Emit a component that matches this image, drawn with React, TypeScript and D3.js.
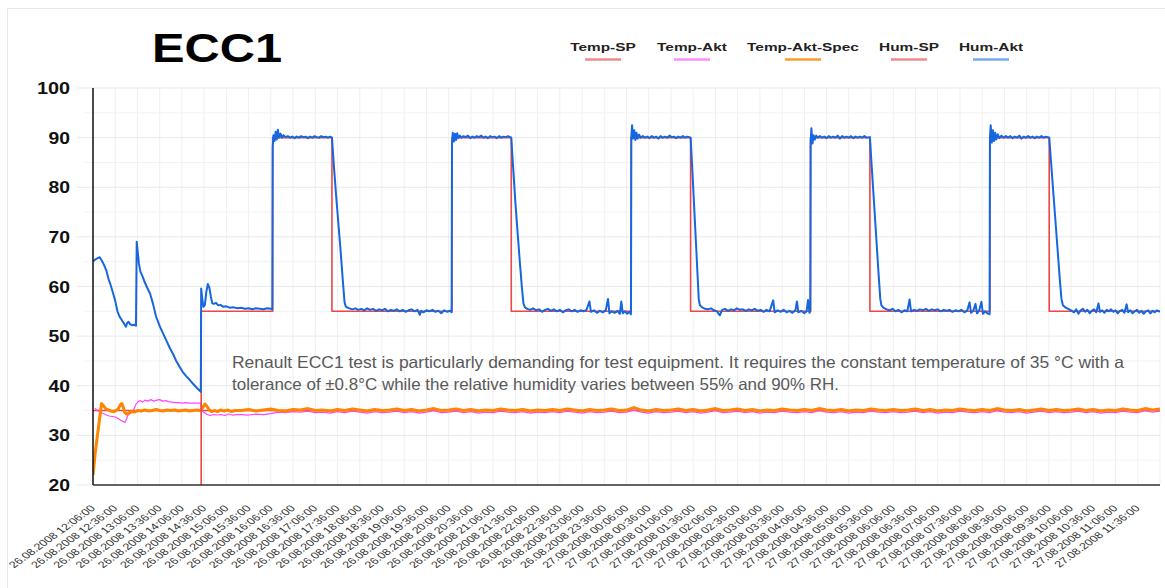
import React from 'react';
import * as d3 from 'd3';

// x values are minutes after 26.08.2008 12:06:00
const tickLabels = [
  '26.08.2008 12:06:00', '26.08.2008 12:36:00', '26.08.2008 13:06:00', '26.08.2008 13:36:00',
  '26.08.2008 14:06:00', '26.08.2008 14:36:00', '26.08.2008 15:06:00', '26.08.2008 15:36:00',
  '26.08.2008 16:06:00', '26.08.2008 16:36:00', '26.08.2008 17:06:00', '26.08.2008 17:36:00',
  '26.08.2008 18:06:00', '26.08.2008 18:36:00', '26.08.2008 19:06:00', '26.08.2008 19:36:00',
  '26.08.2008 20:06:00', '26.08.2008 20:36:00', '26.08.2008 21:06:00', '26.08.2008 21:36:00',
  '26.08.2008 22:06:00', '26.08.2008 22:36:00', '26.08.2008 23:06:00', '26.08.2008 23:36:00',
  '27.08.2008 00:06:00', '27.08.2008 00:36:00', '27.08.2008 01:06:00', '27.08.2008 01:36:00',
  '27.08.2008 02:06:00', '27.08.2008 02:36:00', '27.08.2008 03:06:00', '27.08.2008 03:36:00',
  '27.08.2008 04:06:00', '27.08.2008 04:36:00', '27.08.2008 05:06:00', '27.08.2008 05:36:00',
  '27.08.2008 06:06:00', '27.08.2008 06:36:00', '27.08.2008 07:06:00', '27.08.2008 07:36:00',
  '27.08.2008 08:06:00', '27.08.2008 08:36:00', '27.08.2008 09:06:00', '27.08.2008 09:36:00',
  '27.08.2008 10:06:00', '27.08.2008 10:36:00', '27.08.2008 11:06:00', '27.08.2008 11:36:00',
];
const tickStep = 30;
const totalMinutes = 1440;
const yTicks = [20, 30, 40, 50, 60, 70, 80, 90, 100];

const tempSP: [number, number][] = [[0, 35], [1440, 35]];

const humSP: [number, number][] = [
  [0, 0], [146, 0], [146, 55], [242.5, 55], [242.5, 90], [322.5, 90], [322.5, 55],
  [484.5, 55], [484.5, 90], [564.5, 90], [564.5, 55], [726.4, 55], [726.4, 90], [806.5, 90],
  [806.5, 55], [968.4, 55], [968.4, 90], [1048.5, 90], [1048.5, 55], [1210.5, 55],
  [1210.5, 90], [1290.5, 90], [1290.5, 55], [1440, 55],
];

const humAkt: [number, number][] = [
  [0, 65.1], [2, 65.3], [5, 65.6], [9, 65.9], [12, 65.2], [15, 64.3], [18, 63.2], [21, 61.5],
  [24, 60.2], [27, 58.7], [30, 57.1], [33, 55.0], [36, 53.9], [39, 53.2], [42, 52.5], [44.5, 51.9],
  [46, 52.6], [48, 52.9], [50, 52.4], [53, 52.2], [56, 52.3], [58, 52.1], [59, 69.0], [60.5, 66.8],
  [62, 64.6], [64, 63.0], [67, 62.0], [70, 60.8], [73, 59.8], [77, 58.6], [81, 56.5], [85, 54.0],
  [90, 52.0], [95, 50.4], [100, 48.8], [104, 47.5], [108, 46.4], [112, 45.1], [117, 43.8],
  [121, 42.8], [126, 41.9], [131, 41.1], [135, 40.4], [140, 39.6], [145.5, 38.8],
  [146, 59.6], [147.5, 57.5], [149, 55.9], [151, 56.3], [153, 59.0], [155, 60.5], [157, 59.8],
  [159, 58.0], [161, 56.6], [163, 56.5], [166, 56.7], [169, 56.2], [172, 56.3], [176, 55.9],
  [180, 56.0], [185, 55.7], [190, 55.8], [195, 55.6], [200, 55.7], [205, 55.5], [210, 55.6],
  [215, 55.4], [220, 55.6], [225, 55.5], [230, 55.4], [235, 55.6], [240, 55.5], [242, 55.4],
  [242.5, 88.0], [243.5, 90.5], [245, 89.3], [246.5, 91.2], [248, 89.6], [249.5, 91.6], [251, 90.0],
  [253, 90.8], [255, 90.0], [257, 90.5], [260, 90.1], [263, 90.3], [266, 90.0], [269, 90.2],
  [272, 89.9], [275, 90.2], [278, 90.0], [281, 90.3], [284, 90.1], [287, 90.2], [290, 89.9],
  [293, 90.2], [296, 90.0], [299, 90.3], [302, 90.1], [305, 90.0], [308, 90.3], [311, 90.1],
  [314, 90.2], [317, 90.0], [320, 90.2], [322.5, 90.0],
  [325, 84.5], [328, 78.5], [331, 73.0], [334, 67.5], [337, 61.5], [339.5, 56.8], [341, 56.0],
  [343, 55.8], [346, 55.6], [350, 55.4], [354, 55.6], [358, 55.3], [362, 55.5], [366, 55.2],
  [370, 55.6], [374, 55.3], [378, 55.5], [382, 55.1], [386, 55.4], [390, 55.2], [394, 55.5],
  [398, 55.0], [402, 55.3], [406, 55.1], [410, 55.4], [414, 55.0], [418, 55.3], [422, 54.9],
  [426, 55.2], [430, 55.4], [434, 55.0], [438, 55.3], [441, 54.3], [443, 55.1], [446, 54.8],
  [450, 55.2], [454, 55.0], [458, 55.3], [462, 54.9], [466, 55.1], [470, 54.6], [474, 55.2],
  [478, 54.9], [482, 55.1], [484, 54.8],
  [484.5, 88.5], [485.5, 91.0], [487, 89.2], [488.5, 90.8], [490, 89.5], [491.5, 90.9], [493, 89.9],
  [495, 90.4], [497, 90.0], [500, 90.3], [503, 90.1], [506, 90.4], [509, 89.9], [512, 90.2],
  [515, 90.0], [518, 90.3], [521, 90.1], [524, 90.4], [527, 90.0], [530, 90.2], [533, 89.9],
  [536, 90.3], [539, 90.1], [542, 90.2], [545, 89.9], [548, 90.3], [551, 90.0], [554, 90.2],
  [557, 90.1], [560, 90.3], [564.5, 90.0],
  [567, 84.0], [570, 77.0], [573, 71.0], [576, 65.0], [579, 59.5], [581, 56.5], [583, 55.8],
  [586, 55.5], [590, 55.3], [594, 55.6], [598, 55.2], [602, 55.4], [606, 54.9], [610, 55.3],
  [614, 55.5], [618, 55.1], [622, 55.4], [626, 55.0], [630, 55.3], [634, 54.8], [638, 55.2],
  [642, 55.4], [646, 55.0], [650, 55.3], [654, 54.9], [658, 55.2], [662, 55.0], [666, 55.3],
  [670, 57.0], [672, 54.9], [676, 55.2], [680, 54.7], [684, 55.1], [688, 54.8], [692, 55.2],
  [695, 57.5], [697, 54.6], [700, 55.0], [704, 54.7], [708, 55.1], [711, 54.5], [713, 57.0],
  [715, 54.6], [718, 55.0], [721, 54.5], [724, 54.9], [726, 54.4],
  [726.5, 90.0], [727.5, 92.5], [729, 89.8], [730.5, 91.5], [732, 89.5], [733.5, 91.0], [735, 89.8],
  [737, 90.6], [739, 90.0], [742, 90.3], [745, 90.0], [748, 90.2], [751, 89.9], [754, 90.3],
  [757, 90.0], [760, 90.2], [763, 89.8], [766, 90.3], [769, 90.0], [772, 90.2], [775, 90.0],
  [778, 90.4], [781, 90.1], [784, 90.2], [787, 89.9], [790, 90.2], [793, 90.0], [796, 90.3],
  [799, 90.0], [802, 90.2], [806.5, 90.0],
  [809, 83.0], [812, 74.0], [815, 65.0], [817.5, 57.5], [819, 56.2], [822, 55.8], [826, 55.5],
  [830, 55.4], [834, 55.6], [838, 55.2], [842, 55.0], [846, 54.2], [849, 55.3], [853, 55.5],
  [857, 55.1], [861, 55.4], [865, 55.2], [869, 55.6], [873, 55.3], [877, 55.4], [881, 55.1],
  [885, 55.4], [889, 55.2], [893, 55.5], [897, 55.1], [901, 55.3], [905, 54.9], [909, 55.3],
  [913, 55.0], [918, 57.2], [920, 54.8], [924, 55.2], [928, 54.9], [932, 55.3], [936, 54.8],
  [940, 55.1], [944, 54.7], [948, 55.2], [950, 57.0], [952, 54.8], [956, 55.1], [960, 54.6],
  [963, 55.0], [965, 57.3], [967, 54.7], [968, 55.0],
  [968.5, 89.0], [969.5, 91.9], [971, 88.8], [972.5, 90.5], [974, 89.6], [976, 90.4], [978, 90.0],
  [981, 90.3], [984, 90.0], [987, 90.2], [990, 89.9], [993, 90.3], [996, 90.0], [999, 90.2],
  [1002, 90.0], [1005, 90.4], [1008, 89.8], [1011, 90.3], [1014, 90.0], [1017, 90.2], [1020, 90.0],
  [1023, 90.3], [1026, 89.9], [1029, 90.2], [1032, 90.0], [1035, 90.2], [1038, 90.0], [1041, 90.3],
  [1044, 90.0], [1048.5, 90.1],
  [1051, 84.0], [1054, 77.0], [1057, 70.0], [1060, 63.0], [1062.5, 57.5], [1064, 56.2],
  [1067, 55.7], [1071, 55.4], [1075, 55.2], [1079, 55.5], [1083, 55.0], [1087, 55.3], [1091, 54.8],
  [1095, 55.2], [1099, 55.0], [1102, 57.4], [1104, 55.0], [1108, 55.3], [1112, 55.1], [1116, 55.4],
  [1120, 55.2], [1124, 55.5], [1128, 55.1], [1132, 55.4], [1136, 55.2], [1140, 55.4], [1144, 55.0],
  [1148, 55.3], [1152, 55.1], [1156, 55.3], [1160, 54.9], [1164, 55.2], [1168, 55.0], [1172, 55.3],
  [1176, 54.8], [1180, 55.2], [1183, 56.8], [1185, 54.7], [1188, 55.1], [1191, 56.5], [1193, 54.6],
  [1196, 55.2], [1199, 56.9], [1201, 54.5], [1204, 55.0], [1207, 54.6], [1210, 54.4],
  [1210.5, 90.0], [1211.5, 92.5], [1213, 89.0], [1214.5, 91.5], [1216, 89.3], [1217.5, 91.0],
  [1219, 89.6], [1221, 90.7], [1223, 89.9], [1226, 90.4], [1229, 90.0], [1232, 90.3], [1235, 90.0],
  [1238, 90.3], [1241, 89.9], [1244, 90.2], [1247, 90.0], [1250, 90.4], [1253, 89.8], [1256, 90.2],
  [1259, 90.0], [1262, 90.3], [1265, 90.0], [1268, 90.2], [1271, 89.9], [1274, 90.2], [1277, 90.0],
  [1280, 90.3], [1283, 90.0], [1286, 90.2], [1290.5, 90.0],
  [1293, 85.0], [1296, 79.0], [1299, 73.0], [1302, 67.0], [1305, 61.0], [1307, 57.5], [1309, 56.2],
  [1312, 55.8], [1316, 55.5], [1320, 55.2], [1324, 54.8], [1327, 55.4], [1330, 54.5], [1333, 55.2],
  [1336, 55.5], [1339, 54.9], [1342, 55.3], [1345, 54.6], [1348, 55.1], [1351, 55.4], [1354, 54.8],
  [1357, 56.6], [1359, 54.9], [1362, 55.2], [1365, 54.7], [1368, 55.3], [1371, 55.0], [1374, 55.4],
  [1377, 54.9], [1380, 55.2], [1383, 54.6], [1386, 55.1], [1389, 55.3], [1392, 54.7], [1395, 56.4],
  [1397, 54.8], [1400, 55.2], [1403, 54.6], [1406, 55.0], [1409, 55.3], [1412, 54.7], [1415, 55.1],
  [1418, 54.5], [1421, 55.0], [1424, 55.2], [1427, 54.6], [1430, 55.1], [1433, 54.8], [1436, 55.2],
  [1440, 54.9],
];

const tempSpecHead: [number, number][] = [
  [0, 22.0], [3, 26.5], [6, 30.0], [9, 33.5], [11.5, 36.4], [14, 36.0], [17, 35.4], [20, 35.2],
  [24, 34.9], [28, 34.8], [31, 35.0], [34, 35.3], [37, 36.2], [39, 36.4], [41, 35.6], [43, 34.6],
  [45, 34.3], [48, 34.5], [52, 34.8], [56, 34.7], [60, 35.0], [65, 34.9], [70, 35.1], [75, 34.9],
  [80, 35.0], [85, 35.2], [90, 35.0], [95, 34.9], [100, 35.1], [105, 35.0], [110, 35.1], [115, 34.9],
  [120, 35.0], [125, 35.1], [130, 34.9], [135, 35.0], [140, 35.1], [145, 35.0], [148, 35.6],
  [151, 36.3], [154, 35.8], [157, 35.1], [160, 34.8], [164, 35.0], [168, 34.8], [172, 35.1],
  [177, 34.9], [182, 35.1], [187, 34.8], [192, 35.0],
];

const tempAktHead: [number, number][] = [
  [2.5, 35.5], [6, 35.0], [10, 34.6], [14, 34.4], [18, 34.1], [22, 33.9], [26, 33.8], [30, 33.7],
  [34, 33.4], [38, 33.0], [41, 32.8], [43, 32.6], [45, 33.2], [47, 34.0], [50, 34.4], [53, 34.6],
  [56, 35.5], [58, 36.3], [61, 36.8], [64, 37.0], [67, 36.7], [70, 37.1], [74, 36.9], [78, 37.2],
  [82, 36.9], [86, 37.1], [90, 37.2], [94, 36.9], [98, 37.0], [102, 36.8], [106, 36.7], [110, 36.6],
  [115, 36.6], [120, 36.5], [125, 36.6], [130, 36.5], [135, 36.5], [140, 36.5], [145.5, 36.5],
  [146, 35.2], [148, 34.8], [151, 34.5], [154, 34.2], [158, 34.0], [163, 34.2], [168, 34.1],
  [173, 34.2], [178, 34.0], [183, 34.3], [188, 34.1], [194, 34.2],
];

// from 200 min on, one reading every 10 min
const tailStart = 200;
const tailStep = 10;
const tempSpecTail = [
  35.0, 35.2, 34.9, 35.1, 35.3, 35.0, 34.9, 35.2, 35.1, 35.4, 35.0, 35.1, 34.9, 35.2, 35.0, 35.3,
  35.1, 34.9, 35.2, 35.0, 35.1, 35.3, 35.0, 35.2, 34.9, 35.1, 35.4, 35.0, 35.1, 35.3, 35.0, 35.2,
  34.9, 35.1, 35.0, 35.3, 35.1, 35.0, 35.2, 34.9, 35.1, 35.0, 35.2, 35.0, 35.3, 35.1, 34.9, 35.2,
  35.0, 35.1, 35.3, 35.0, 35.1, 35.6, 35.1, 34.9, 35.2, 35.0, 35.1, 35.3, 35.0, 35.2, 34.9, 35.1,
  35.4, 35.0, 35.1, 35.3, 35.0, 35.2, 34.9, 35.1, 35.0, 35.3, 35.1, 35.0, 35.2, 35.0, 35.4, 35.1,
  35.0, 35.2, 34.9, 35.1, 35.0, 35.3, 35.1, 35.0, 35.2, 35.0, 35.1, 35.3, 35.0, 35.2, 34.9, 35.1,
  35.0, 35.3, 35.1, 35.0, 35.2, 35.0, 35.4, 35.1, 35.0, 35.2, 34.9, 35.1, 35.3, 35.0, 35.2, 35.0,
  35.1, 35.3, 35.0, 35.2, 34.9, 35.1, 35.0, 35.3, 35.1, 35.0, 35.4, 35.1, 35.3,
];
const tempAktTail = [
  34.2, 34.1, 34.3, 34.2, 34.4, 34.7, 34.6, 34.8, 34.7, 34.9, 34.6, 34.7, 34.5, 34.8, 34.6, 34.9,
  34.7, 34.5, 34.8, 34.6, 34.7, 34.9, 34.6, 34.8, 34.5, 34.7, 35.0, 34.6, 34.7, 34.9, 34.6, 34.8,
  34.5, 34.7, 34.6, 34.9, 34.7, 34.6, 34.8, 34.5, 34.7, 34.6, 34.8, 34.6, 34.9, 34.7, 34.5, 34.8,
  34.6, 34.7, 34.9, 34.6, 34.7, 35.1, 34.7, 34.5, 34.8, 34.6, 34.7, 34.9, 34.6, 34.8, 34.5, 34.7,
  35.0, 34.6, 34.7, 34.9, 34.6, 34.8, 34.5, 34.7, 34.6, 34.9, 34.7, 34.6, 34.8, 34.6, 35.0, 34.7,
  34.6, 34.8, 34.5, 34.7, 34.6, 34.9, 34.7, 34.6, 34.8, 34.6, 34.7, 34.9, 34.6, 34.8, 34.5, 34.7,
  34.6, 34.9, 34.7, 34.6, 34.8, 34.6, 35.0, 34.7, 34.6, 34.8, 34.5, 34.7, 34.9, 34.6, 34.8, 34.6,
  34.7, 34.9, 34.6, 34.8, 34.5, 34.7, 34.6, 34.9, 34.7, 34.6, 35.0, 34.7, 34.9,
];

const tempAktSpec: [number, number][] = tempSpecHead.concat(
  tempSpecTail.map((v, i) => [tailStart + i * tailStep, v] as [number, number])
);
const tempAkt: [number, number][] = tempAktHead.concat(
  tempAktTail.map((v, i) => [tailStart + i * tailStep, v] as [number, number])
);

const series = [
  { name: 'Temp-SP', data: tempSP, color: '#ee4646', legend: '#f28a8a', width: 1.6, cx: 603 },
  { name: 'Temp-Akt', data: tempAkt, color: '#ff44ff', legend: '#ff8cff', width: 1.2, cx: 692 },
  { name: 'Temp-Akt-Spec', data: tempAktSpec, color: '#ff8400', legend: '#ff9a2a', width: 3, cx: 803 },
  { name: 'Hum-SP', data: humSP, color: '#ee4646', legend: '#f28a8a', width: 1.6, cx: 909 },
  { name: 'Hum-Akt', data: humAkt, color: '#1666e0', legend: '#78a8ee', width: 2, cx: 991 },
];

const note = [
  'Renault ECC1 test is particularly demanding for test equipment. It requires the constant temperature of 35 °C with a',
  'tolerance of ±0.8°C while the relative humidity varies between 55% and 90% RH.',
];

const W = 1165;
const H = 588;
const left = 93;
const right = 1160;
const top = 88;
const bottom = 485;
const stretch = 1.376;

export default function App() {
  const x = d3.scaleLinear().domain([0, totalMinutes]).range([left, right]);
  const y = d3.scaleLinear().domain([20, 100]).range([bottom, top]);
  const line = d3.line<[number, number]>().x(d => x(d[0])).y(d => y(d[1]));
  const gridY = d3.range(20, 101, 5);
  const gridX = d3.range(0, totalMinutes + 1, tickStep);
  const font = 'Liberation Sans, Arial, sans-serif';

  return (
    <svg width={W} height={H} style={{ position: 'absolute', left: 0, top: 0, background: '#fff' }}>
      <defs>
        <clipPath id="plot">
          <rect x={left} y={top - 10} width={right - left} height={bottom - top + 10} />
        </clipPath>
      </defs>
      <rect x={7.5} y={8.5} width={W} height={H} fill="#fff" stroke="#e8e8e8" />

      <text x={217} y={62} textAnchor="middle" fontFamily={font} fontWeight="bold" fontSize={40}
        textLength={130} lengthAdjust="spacingAndGlyphs" fill="#000">ECC1</text>

      {series.map(s => (
        <g key={s.name}>
          <text x={s.cx} y={51} textAnchor="middle" fontFamily={font} fontWeight="bold" fontSize={11.2}
            fill="#222" transform={`translate(${s.cx},0) scale(${stretch},1) translate(${-s.cx},0)`}>{s.name}</text>
          <line x1={s.cx - 18} x2={s.cx + 18} y1={59.5} y2={59.5} stroke={s.legend} strokeWidth={2.5} />
        </g>
      ))}

      {gridX.map(m => (
        <line key={'gx' + m} x1={x(m)} x2={x(m)} y1={top} y2={bottom} stroke="#efefef" strokeWidth={1} />
      ))}
      {gridY.map(v => (
        <line key={'gy' + v} x1={v % 10 === 0 ? 77 : 85} x2={right} y1={y(v)} y2={y(v)}
          stroke={v % 10 === 0 ? '#e9e9e9' : '#f2f2f2'} strokeWidth={1} />
      ))}

      {yTicks.map(v => (
        <text key={'yt' + v} x={70} y={y(v) + 6} textAnchor="end" fontFamily={font} fontWeight="bold"
          fontSize={16.5} textLength={v === 100 ? 33 : 21.5} lengthAdjust="spacingAndGlyphs" fill="#111">{v}</text>
      ))}

      {tickLabels.map((t, i) => (
        <g key={'xt' + i} transform={`translate(${x(i * tickStep) + 3},${509}) scale(${stretch},1) rotate(-45)`}>
          <text x={0} y={0} textAnchor="end" fontFamily={font} fontSize={9.2} fill="#333">{t}</text>
        </g>
      ))}

      <g clipPath="url(#plot)">
        {series.map(s => (
          <path key={'p' + s.name} d={line(s.data) || ''} fill="none" stroke={s.color}
            strokeWidth={s.width} strokeLinejoin="round" />
        ))}
      </g>

      <line x1={left} x2={left} y1={top} y2={bottom} stroke="#111" strokeWidth={1.5} />
      <line x1={left} x2={right} y1={bottom} y2={bottom} stroke="#333" strokeWidth={1.5} />

      {note.map((t, i) => (
        <text key={'n' + i} x={232} y={368 + i * 22} fontFamily={font} fontSize={16.5} fill="#595959"
          textLength={i === 0 ? 892 : 607} lengthAdjust="spacingAndGlyphs">{t}</text>
      ))}
    </svg>
  );
}
